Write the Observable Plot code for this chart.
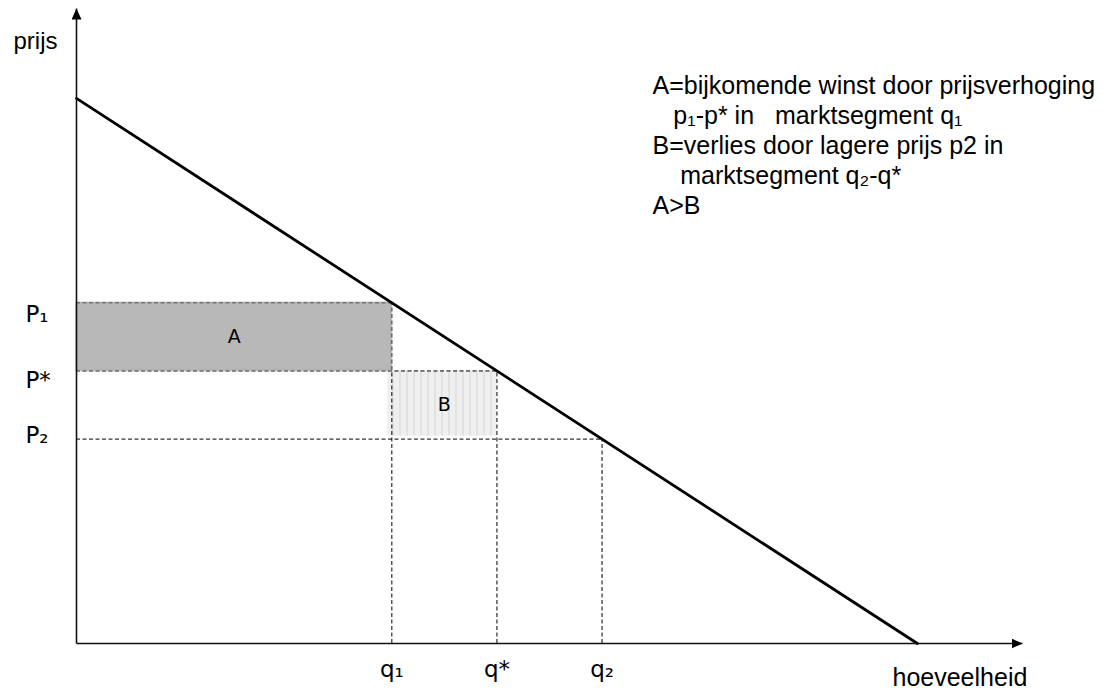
<!DOCTYPE html>
<html>
<head>
<meta charset="utf-8">
<script src="https://cdn.jsdelivr.net/npm/d3@7"></script>
<script src="https://cdn.jsdelivr.net/npm/@observablehq/plot@0.6"></script>
<style>
  html, body { margin: 0; padding: 0; background: #fff; }
  #chart svg { display: block; }
</style>
</head>
<body>
<div id="chart"></div>
<script>
// ---- data ----
const demandQ = [0, 100];          // quantity at the two ends of the demand line
const demandP = [100, 0];          // price at the two ends of the demand line
const qValues = [37.5, 50, 62.5];  // q1, q*, q2
const pValues = [62.5, 50, 37.5];  // P1, P*, P2
const qLabels = ["q\u2081", "q*", "q\u2082"];
const pLabels = ["P\u2081", "P*", "P\u2082"];
const areaLabels = ["A", "B"];
const axisMax = {q: 112.5, p: 116.5};
const axisTitles = {x: "hoeveelheid", y: "prijs"};
const legendLines = [
  "A=bijkomende winst door prijsverhoging",
  "\u00a0\u00a0\u00a0p\u2081-p* in\u00a0\u00a0 marktsegment q\u2081",
  "B=verlies door lagere prijs p2 in",
  "\u00a0\u00a0\u00a0\u00a0marktsegment q\u2082-q*",
  "A>B"
];

// ---- derived tables ----
const demand = demandQ.map((q, i) => ({q, p: demandP[i]}));
const levels = qValues.map((q, i) => ({q, p: pValues[i], qLabel: qLabels[i], pLabel: pLabels[i]}));
const areaA = [{x1: 0, x2: qValues[0], y1: pValues[1], y2: pValues[0], label: areaLabels[0]}];
const areaB = [{x1: qValues[0], x2: qValues[1], y1: pValues[2], y2: pValues[1], label: areaLabels[1]}];
const axes = [
  {x1: 0, y1: 0, x2: axisMax.q, y2: 0},
  {x1: 0, y1: 0, x2: 0, y2: axisMax.p}
];

const sans = "'Liberation Sans', Arial, sans-serif";
const tahoma = "'DejaVu Sans', Verdana, sans-serif";
const pDy = [19, 17, 4];

const plot = Plot.plot({
  width: 1115,
  height: 689,
  marginLeft: 76,
  marginRight: 93,
  marginTop: 8,
  marginBottom: 46,
  x: {domain: [0, axisMax.q], axis: null},
  y: {domain: [0, axisMax.p], axis: null},
  style: {fontFamily: sans, background: "white", color: "black"},
  marks: [
    // area B (striped light grey)
    Plot.rect(areaB, {x1: "x1", x2: "x2", y1: "y1", y2: "y2", fill: "url(#bstripes)", insetLeft: -4, insetBottom: 3}),
    // dashed guide lines
    Plot.ruleY(levels, {y: "p", x1: 0, x2: "q", stroke: "black", strokeWidth: 1, strokeDasharray: "4,2.5"}),
    Plot.ruleX(levels, {x: "q", y1: 0, y2: "p", stroke: "black", strokeWidth: 1, strokeDasharray: "4,2.5"}),
    // area A (grey, semi transparent so dashes show through)
    Plot.rect(areaA, {x1: "x1", x2: "x2", y1: "y1", y2: "y2", fill: "#8c8c8c", fillOpacity: 0.62,
      stroke: "#8c8c8c", strokeOpacity: 0.35, strokeWidth: 2}),
    // demand line
    Plot.line(demand, {x: "q", y: "p", stroke: "black", strokeWidth: 2.8}),
    // axes with arrows
    Plot.link(axes, {x1: "x1", y1: "y1", x2: "x2", y2: "y2", stroke: "#111", strokeWidth: 1.6}),
    // area labels
    Plot.text(areaA, {x: d => (d.x1 + d.x2) / 2, y: d => (d.y1 + d.y2) / 2, text: "label", fontFamily: tahoma, fontSize: 19, lineAnchor: "middle"}),
    Plot.text(areaB, {x: d => (d.x1 + d.x2) / 2, y: d => (d.y1 + d.y2) / 2, text: "label", fontFamily: tahoma, fontSize: 19, lineAnchor: "middle"}),
    // q labels
    Plot.text(levels, {x: "q", y: 0, text: "qLabel", dy: 33, lineAnchor: "bottom", textAnchor: "middle", fontFamily: tahoma, fontSize: 23}),
    // P labels
    ...levels.map((d, i) => Plot.text([d], {x: 0, y: "p", text: "pLabel", dx: -51, dy: pDy[i], lineAnchor: "bottom", textAnchor: "start", fontFamily: tahoma, fontSize: 23})),
    // axis titles
    Plot.text([axisTitles.y], {x: 0, y: axisMax.p, dx: -19, dy: 40, lineAnchor: "bottom", textAnchor: "end", fontSize: 24}),
    Plot.text([axisTitles.x], {x: axisMax.q, y: 0, dx: -130, dy: 42, lineAnchor: "bottom", textAnchor: "start", fontSize: 25}),
    // explanation (last line baseline at 213)
    Plot.text([legendLines.join("\n")], {frameAnchor: "top-left", dx: 576, dy: 205, lineAnchor: "bottom", textAnchor: "start", fontSize: 25, lineHeight: 1.2})
  ]
});

// defs: stripe pattern and filled arrowhead
const svg = d3.select(plot);
const defs = svg.insert("defs", ":first-child");
const pat = defs.append("pattern").attr("id", "bstripes").attr("patternUnits", "userSpaceOnUse")
  .attr("width", 7).attr("height", 10);
pat.append("rect").attr("width", 7).attr("height", 10).attr("fill", "#efefef");
pat.append("rect").attr("width", 2).attr("height", 10).attr("fill", "#e2e2e2");
defs.append("marker").attr("id", "head").attr("viewBox", "0 -5 11 10")
  .attr("refX", 11).attr("refY", 0).attr("markerWidth", 11).attr("markerHeight", 10)
  .attr("markerUnits", "userSpaceOnUse").attr("orient", "auto")
  .append("path").attr("d", "M0,-5L11,0L0,5Z").attr("fill", "#000");
svg.selectAll('g[aria-label="link"] path').attr("marker-end", "url(#head)");

document.getElementById("chart").append(plot);
</script>
</body>
</html>
